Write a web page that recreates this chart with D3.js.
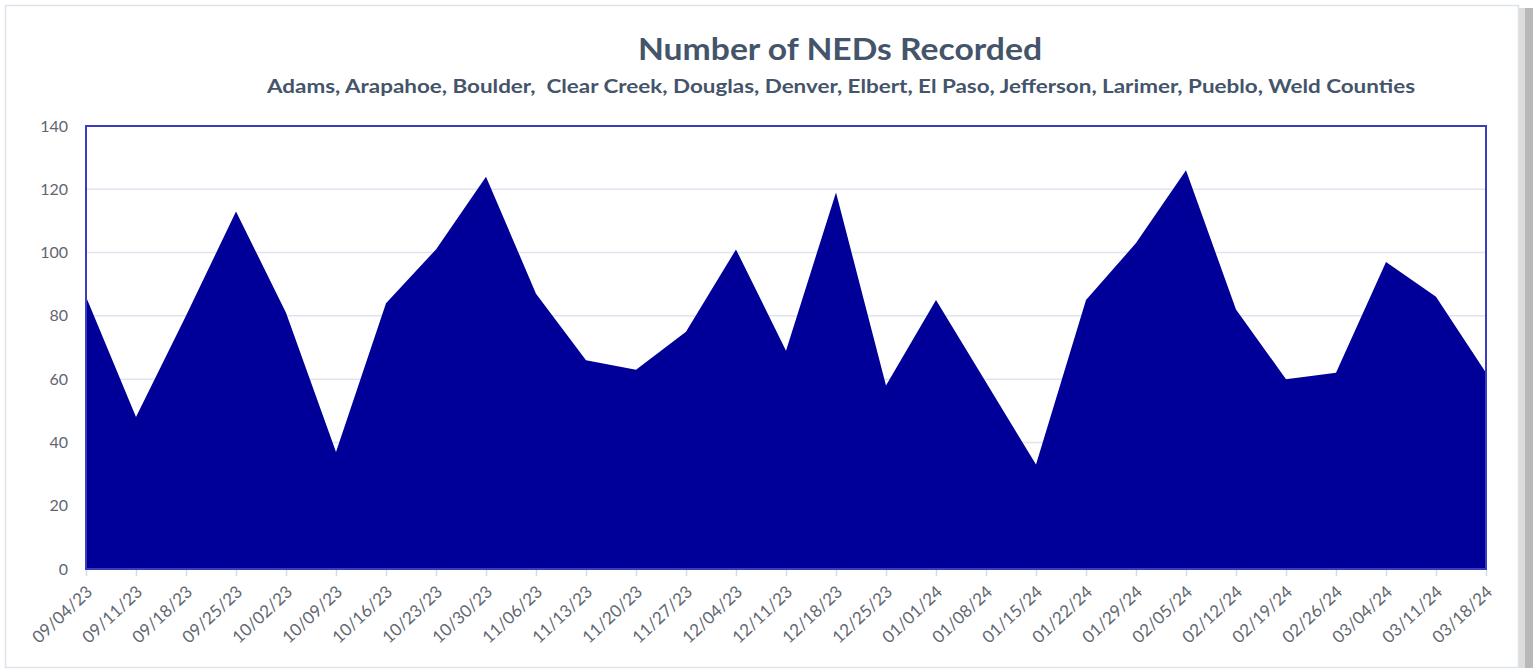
<!DOCTYPE html>
<html>
<head>
<meta charset="utf-8">
<script src="https://cdn.jsdelivr.net/npm/d3@7/dist/d3.min.js"></script>
<style>
  html, body { margin: 0; padding: 0; background: #ffffff; }
  svg { display: block; }
</style>
</head>
<body>
<svg id="chart" width="1533" height="671"></svg>
<script>
const titleText = "Number of NEDs Recorded";
const subtitleText = "Adams, Arapahoe, Boulder,  Clear Creek, Douglas, Denver, Elbert, El Paso, Jefferson, Larimer, Pueblo, Weld Counties";

const weeks = ["09/04/23","09/11/23","09/18/23","09/25/23","10/02/23","10/09/23","10/16/23","10/23/23","10/30/23","11/06/23","11/13/23","11/20/23","11/27/23","12/04/23","12/11/23","12/18/23","12/25/23","01/01/24","01/08/24","01/15/24","01/22/24","01/29/24","02/05/24","02/12/24","02/19/24","02/26/24","03/04/24","03/11/24","03/18/24"];
const neds = [86,48,80,113,81,37,84,101,124,87,66,63,75,101,69,119,58,85,59,33,85,103,126,82,60,62,97,86,62];
const yTicks = [0,20,40,60,80,100,120,140];

const svg = d3.select("#chart");
const m = {left: 86, right: 1486, top: 126, bottom: 569};
const font = "Lato, 'Open Sans', sans-serif";

// outer card + shadow
svg.append("rect").attr("x", 1519).attr("y", 8).attr("width", 14).attr("height", 660).attr("fill", "#b8b8b8");
svg.append("rect").attr("x", 1519).attr("y", 8).attr("width", 6).attr("height", 660).attr("fill", "#dcdcdc");
svg.append("rect").attr("x", 5.5).attr("y", 5.5).attr("width", 1513).attr("height", 662)
  .attr("fill", "#ffffff").attr("stroke", "#dde3ea").attr("stroke-width", 1.5);

const x = d3.scalePoint().domain(weeks).range([m.left, m.right]);
const y = d3.scaleLinear().domain([0, 140]).range([m.bottom, m.top]);

// gridlines
svg.append("g").selectAll("line").data(yTicks.filter(d => d > 0 && d < 140)).join("line")
  .attr("x1", m.left).attr("x2", m.right)
  .attr("y1", d => y(d)).attr("y2", d => y(d))
  .attr("stroke", "#e1e4ee").attr("stroke-width", 1.5);

// area
const area = d3.area()
  .x((d, i) => x(weeks[i]))
  .y0(y(0))
  .y1(d => y(d));
svg.append("path").datum(neds).attr("d", area).attr("fill", "#000099");

// plot border
svg.append("rect").attr("x", m.left).attr("y", m.top)
  .attr("width", m.right - m.left).attr("height", m.bottom - m.top)
  .attr("fill", "none").attr("stroke", "#3c3cc0").attr("stroke-width", 2);

// y axis
const yAxis = d3.axisLeft(y).tickValues(yTicks).tickSize(0).tickPadding(18);
const yg = svg.append("g").attr("transform", `translate(${m.left},0)`).call(yAxis);
yg.select(".domain").remove();
yg.selectAll("text").attr("font-family", font).attr("font-size", 16).attr("fill", "#5f6670");

// x axis
const xAxis = d3.axisBottom(x).tickSize(6).tickPadding(0);
const xg = svg.append("g").attr("transform", `translate(0,${m.bottom + 1})`).call(xAxis);
xg.select(".domain").remove();
xg.selectAll(".tick line").attr("stroke", "#d6dae3").attr("stroke-width", 1.5);
xg.selectAll("text")
  .attr("font-family", font).attr("font-size", 17).attr("fill", "#5f6670")
  .attr("text-anchor", "end")
  .attr("x", 0).attr("y", 0)
  .attr("dy", "0.35em")
  .attr("transform", "translate(3,19) rotate(-43)");

// titles
svg.append("text").attr("x", 840).attr("y", 60).attr("text-anchor", "middle")
  .attr("font-family", font).attr("font-weight", "bold").attr("font-size", 31)
  .attr("textLength", 404).attr("lengthAdjust", "spacingAndGlyphs")
  .attr("fill", "#44546a").text(titleText);
svg.append("text").attr("x", 841).attr("y", 93).attr("text-anchor", "middle")
  .attr("font-family", font).attr("font-weight", "bold").attr("font-size", 19)
  .attr("textLength", 1148).attr("lengthAdjust", "spacingAndGlyphs")
  .attr("fill", "#44546a").style("white-space", "pre").text(subtitleText);
</script>
</body>
</html>
